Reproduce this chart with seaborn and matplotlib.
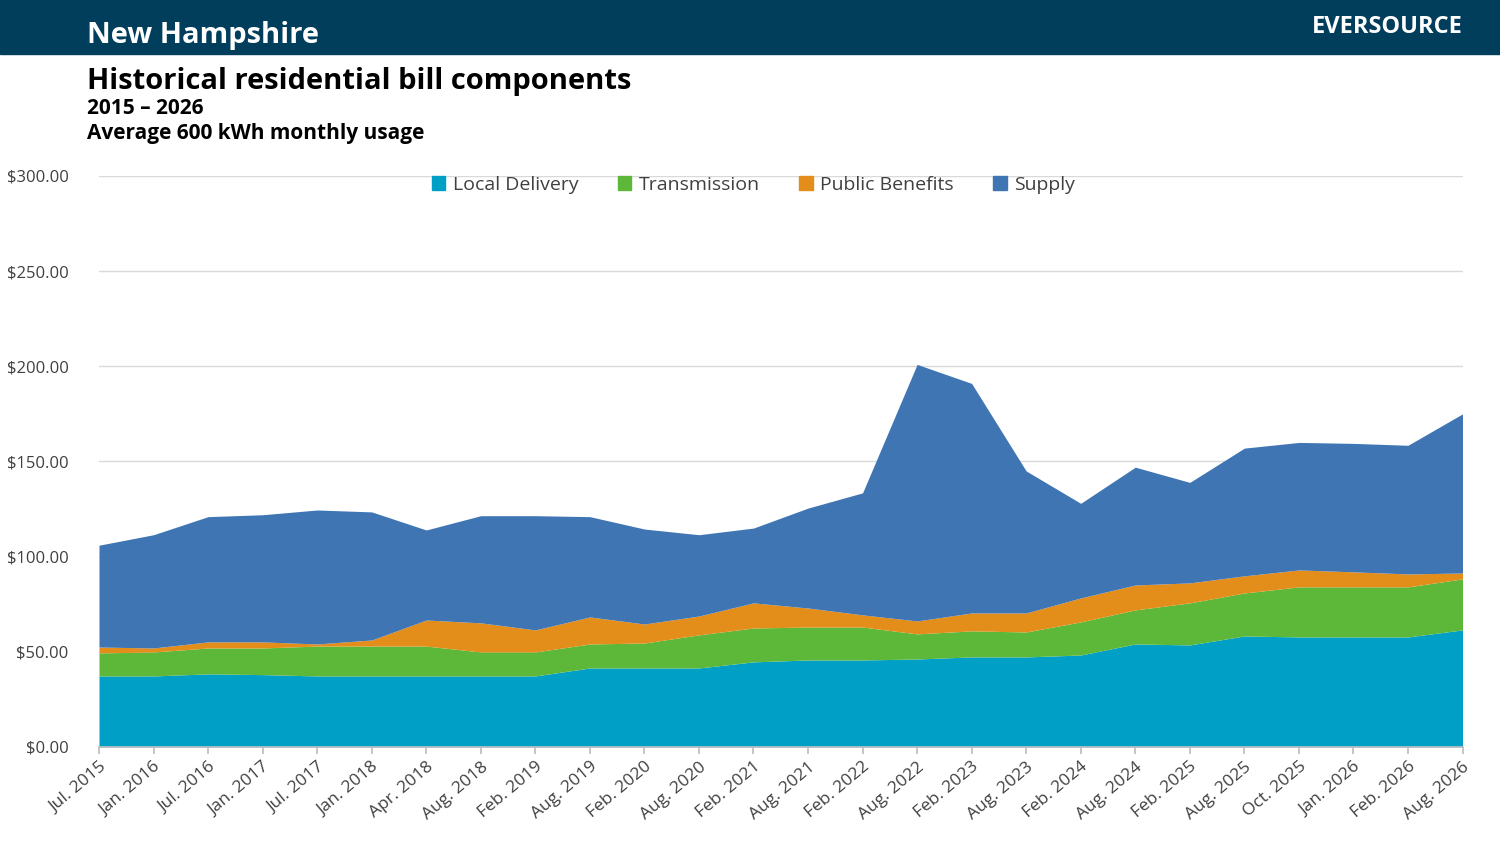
import matplotlib
matplotlib.use("Agg")
import matplotlib.pyplot as plt
import seaborn as sns
import numpy as np
from matplotlib.patches import Rectangle, Patch

periods = ["Jul. 2015","Jan. 2016","Jul. 2016","Jan. 2017","Jul. 2017","Jan. 2018","Apr. 2018","Aug. 2018",
           "Feb. 2019","Aug. 2019","Feb. 2020","Aug. 2020","Feb. 2021","Aug. 2021","Feb. 2022","Aug. 2022",
           "Feb. 2023","Aug. 2023","Feb. 2024","Aug. 2024","Feb. 2025","Aug. 2025","Oct. 2025","Jan. 2026",
           "Feb. 2026","Aug. 2026"]
local_delivery = [37.3,37.3,38.4,38.0,37.3,37.3,37.3,37.3,37.3,41.5,41.5,41.5,44.7,45.7,45.7,46.2,47.3,47.3,48.3,54.1,53.6,58.3,57.8,57.8,57.8,61.5]
transmission = [12.1,12.6,13.6,14.0,15.7,15.7,15.7,12.6,12.6,12.6,13.1,17.4,17.8,17.3,17.3,13.2,13.7,13.1,17.4,17.9,22.1,22.6,26.3,26.3,26.3,26.8]
public_benefits = [3.1,2.1,3.2,3.2,1.1,3.2,13.7,15.3,11.6,14.2,10.0,9.9,13.2,10.0,6.4,6.8,9.4,10.0,12.6,13.1,10.5,9.0,8.9,7.9,6.8,3.1]
totals = [106,111.5,121,122,124.5,123.5,114,121.5,121.5,121,114.5,111.5,115,125.5,133.5,201,191,145,128,147,139,157,160,159.5,158.5,175]
supply = [t - a - b - c for t, a, b, c in zip(totals, local_delivery, transmission, public_benefits)]

names = ["Local Delivery", "Transmission", "Public Benefits", "Supply"]
colors = ["#00A0C6", "#5DB83A", "#E38D1B", "#3F75B3"]

sns.set_theme(style="white")
plt.rcParams['font.family'] = ['Open Sans', 'DejaVu Sans']

fig = plt.figure(figsize=(15, 8.44), dpi=100)
ax = fig.add_axes([0.066, 0.115, 0.909, 0.6765])
x = np.arange(len(periods))
ax.stackplot(x, local_delivery, transmission, public_benefits, supply, colors=colors, linewidth=0)
ax.set_xlim(0, len(periods) - 1)
ax.set_ylim(0, 300)
ax.set_yticks(np.arange(0, 301, 50))
ax.set_yticklabels([f"${v:.2f}" if v else "$0.00" for v in np.arange(0, 301, 50)], fontsize=12, color="#404040")
ax.set_xticks(x)
ax.set_xticklabels(periods, rotation=40, ha="right", rotation_mode="anchor", fontsize=12.5, color="#404040")
ax.yaxis.grid(True, color="#D9D9D9", linewidth=1)
ax.set_axisbelow(True)
for s in ["top", "right", "left"]:
    ax.spines[s].set_visible(False)
ax.spines["bottom"].set_color("#BFBFBF")
ax.tick_params(axis="x", length=5, color="#BFBFBF", bottom=True)
ax.tick_params(axis="y", length=0, pad=22)

handles = [Patch(color=c, label=n) for n, c in zip(names, colors)]
ax.legend(handles=handles, loc="center", bbox_to_anchor=(0.48, 0.985), ncol=4, frameon=False,
          fontsize=14, handlelength=0.7, handleheight=0.7, columnspacing=2.0, handletextpad=0.4, labelcolor="#404040")

fig.patches.append(Rectangle((0, 1 - 54/844), 1, 54/844, transform=fig.transFigure, color="#003E5C", zorder=0))
fig.text(0.058, 1 - 36/844, "New Hampshire", fontsize=21, fontweight="bold", color="white", va="center")
fig.text(0.975, 1 - 27/844, "EVERSOURCE", fontsize=17, fontweight="bold", color="white", va="center", ha="right")
fig.text(0.058, 1 - 81/844, "Historical residential bill components", fontsize=21, fontweight="bold", color="black", va="center")
fig.text(0.058, 1 - 109/844, "2015 – 2026", fontsize=15, fontweight="bold", color="black", va="center")
fig.text(0.058, 1 - 133/844, "Average 600 kWh monthly usage", fontsize=15, fontweight="bold", color="black", va="center")

fig.savefig("out.png", dpi=100)
